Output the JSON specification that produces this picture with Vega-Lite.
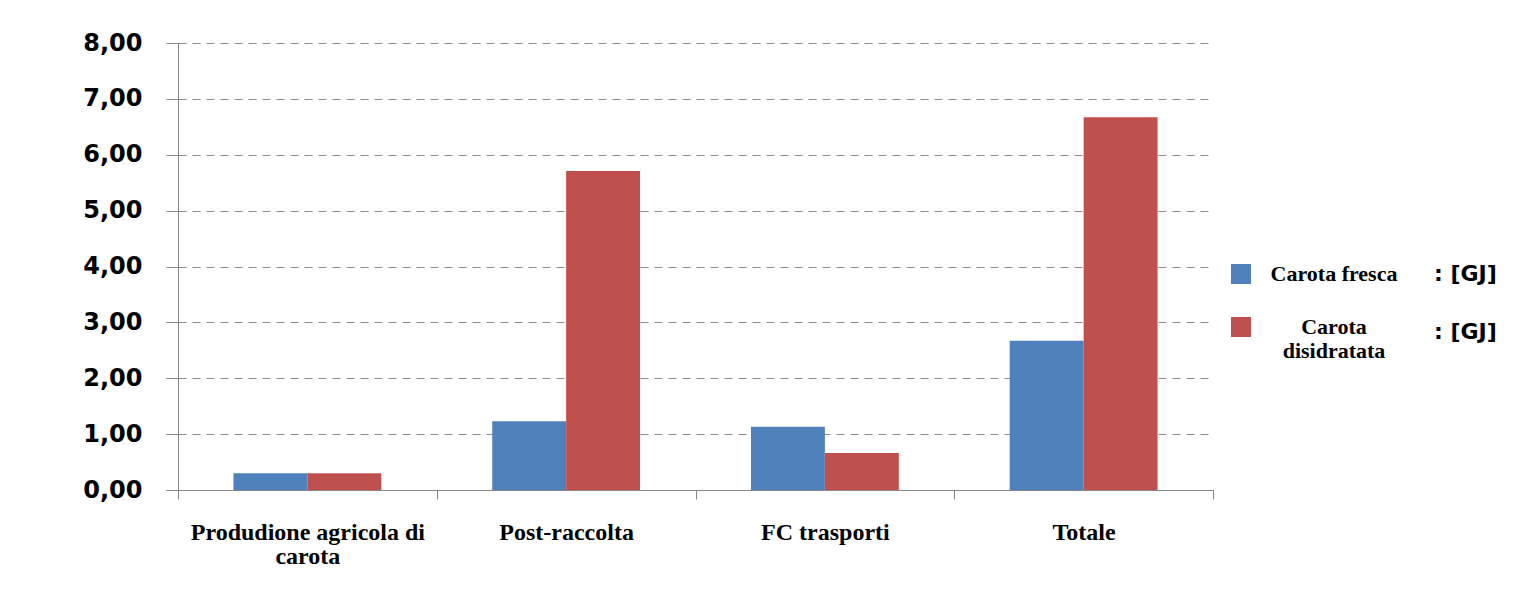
{
  "$schema": "https://vega.github.io/schema/vega-lite/v6.json",
  "width": 1035,
  "height": 447,
  "autosize": {"type": "none"},
  "padding": {"left": 178, "top": 43, "right": 303, "bottom": 102},
  "background": "white",
  "config": {"view": {"stroke": null}},
  "data": {
    "values": [
      {"categoria": "Produdione agricola di carota", "serie": "Carota fresca", "unita": "u1", "valore": 0.30},
      {"categoria": "Produdione agricola di carota", "serie": "Carota disidratata", "unita": "u2", "valore": 0.30},
      {"categoria": "Post-raccolta", "serie": "Carota fresca", "unita": "u1", "valore": 1.23},
      {"categoria": "Post-raccolta", "serie": "Carota disidratata", "unita": "u2", "valore": 5.71},
      {"categoria": "FC trasporti", "serie": "Carota fresca", "unita": "u1", "valore": 1.13},
      {"categoria": "FC trasporti", "serie": "Carota disidratata", "unita": "u2", "valore": 0.66},
      {"categoria": "Totale", "serie": "Carota fresca", "unita": "u1", "valore": 2.67},
      {"categoria": "Totale", "serie": "Carota disidratata", "unita": "u2", "valore": 6.67}
    ]
  },
  "mark": {"type": "bar"},
  "encoding": {
    "x": {
      "field": "categoria",
      "type": "nominal",
      "sort": ["Produdione agricola di carota", "Post-raccolta", "FC trasporti", "Totale"],
      "scale": {"paddingInner": 0, "paddingOuter": 0},
      "axis": {
        "title": null,
        "tickBand": "extent",
        "labelAngle": 0,
        "labelFont": "Liberation Serif",
        "labelFontWeight": "bold",
        "labelFontSize": 24,
        "labelColor": "black",
        "labelPadding": 21,
        "labelBaseline": "top",
        "labelLineHeight": 24,
        "labelLimit": 400,
        "labelOverlap": false,
        "labelExpr": "datum.label == 'Produdione agricola di carota' ? ['Produdione agricola di', 'carota'] : datum.label",
        "tickSize": 9,
        "tickColor": "#868686",
        "domainColor": "#868686",
        "grid": false
      }
    },
    "xOffset": {
      "field": "serie",
      "type": "nominal",
      "sort": ["Carota fresca", "Carota disidratata"],
      "scale": {"paddingInner": 0, "paddingOuter": 0.75}
    },
    "y": {
      "field": "valore",
      "type": "quantitative",
      "scale": {"domain": [0, 8], "nice": false},
      "axis": {
        "title": null,
        "values": [0, 1, 2, 3, 4, 5, 6, 7, 8],
        "labelExpr": "replace(format(datum.value, '.2f'), '.', ',')",
        "labelFont": "DejaVu Sans",
        "labelFontWeight": "bold",
        "labelFontSize": 24,
        "labelColor": "black",
        "labelPadding": 24,
        "tickSize": 12,
        "tickColor": "#868686",
        "domainColor": "#868686",
        "gridColor": "#8c8c8c",
        "gridDash": [8, 6],
        "gridWidth": 1.2
      }
    },
    "color": {
      "field": "serie",
      "type": "nominal",
      "scale": {"domain": ["Carota fresca", "Carota disidratata"], "range": ["#4F81BD", "#C0504D"]},
      "legend": {
        "title": null,
        "orient": "none",
        "legendX": 1052,
        "legendY": 220,
        "padding": 0,
        "symbolType": "square",
        "symbolSize": 400,
        "symbolStrokeWidth": 0,
        "labelFont": "Liberation Serif",
        "labelFontWeight": "bold",
        "labelFontSize": 22,
        "labelColor": "black",
        "labelAlign": "center",
        "labelOffset": 82,
        "labelLineHeight": 25,
        "labelLimit": 300,
        "rowPadding": 31,
        "labelExpr": "datum.label == 'Carota disidratata' ? ['Carota', 'disidratata'] : datum.label"
      }
    },
    "opacity": {
      "field": "unita",
      "type": "nominal",
      "scale": {"type": "ordinal", "domain": ["u1", "u2"], "range": [1, 1]},
      "legend": {
        "title": null,
        "orient": "none",
        "legendX": 1234,
        "legendY": 220,
        "padding": 0,
        "symbolOpacity": 0,
        "symbolFillColor": "transparent",
        "symbolStrokeColor": "transparent",
        "symbolSize": 0,
        "symbolStrokeWidth": 0,
        "labelFont": "DejaVu Sans",
        "labelFontWeight": "bold",
        "labelFontSize": 22,
        "labelColor": "black",
        "labelOffset": 0,
        "rowPadding": 36,
        "labelExpr": "': [GJ]'"
      }
    }
  }
}
